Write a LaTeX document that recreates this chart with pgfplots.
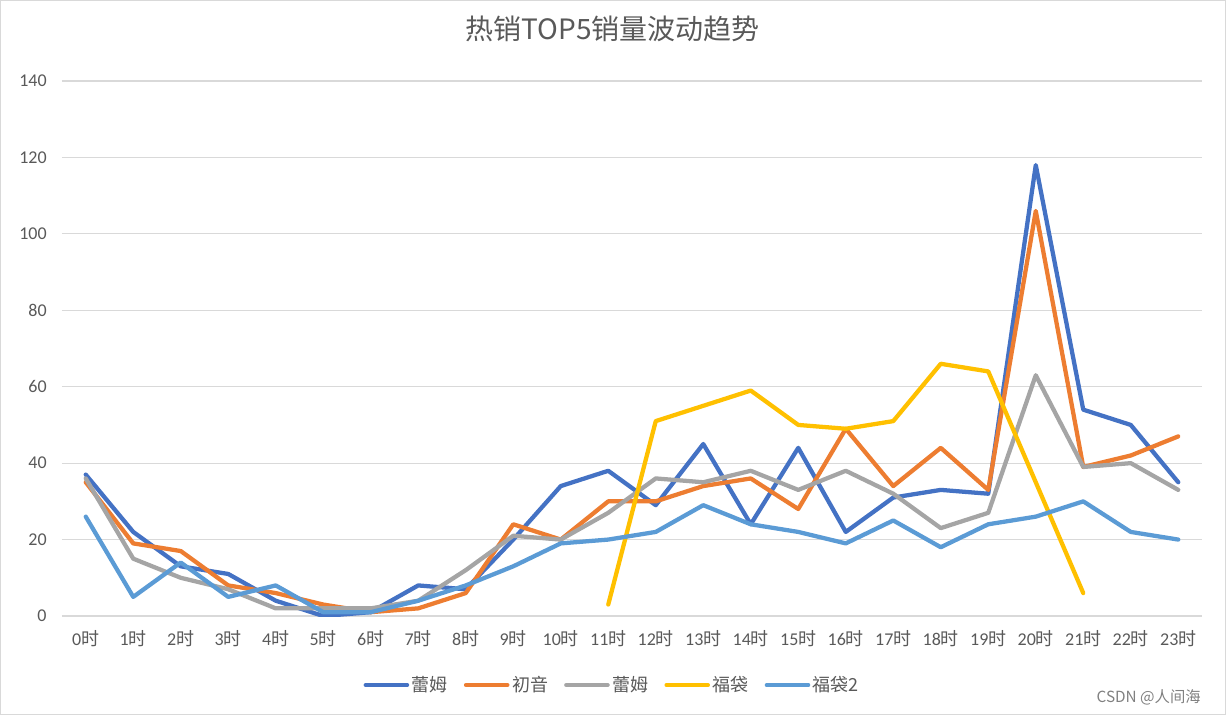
\documentclass[border=0pt]{standalone}
\usepackage{pgfplots}
\pgfplotsset{compat=1.18}
\usepackage{fontspec}
\setmainfont{Carlito}
\newfontfamily\cjk{Noto Sans CJK SC}
\definecolor{s1}{HTML}{4472C4}
\definecolor{s2}{HTML}{ED7D31}
\definecolor{s3}{HTML}{A5A5A5}
\definecolor{s4}{HTML}{FFC000}
\definecolor{s5}{HTML}{5B9BD5}
\definecolor{gridc}{HTML}{D9D9D9}
\definecolor{txt}{HTML}{595959}
\begin{document}
\begin{tikzpicture}
\begin{axis}[
  at={(0,0)}, anchor=south west,
  scale only axis, width=855pt, height=401.25pt,
  xmin=-0.5, xmax=23.5, ymin=0, ymax=140,
  xtick={0,...,23},
  xticklabels={0{\cjk 时},1{\cjk 时},2{\cjk 时},3{\cjk 时},4{\cjk 时},5{\cjk 时},6{\cjk 时},7{\cjk 时},8{\cjk 时},9{\cjk 时},10{\cjk 时},11{\cjk 时},12{\cjk 时},13{\cjk 时},14{\cjk 时},15{\cjk 时},16{\cjk 时},17{\cjk 时},18{\cjk 时},19{\cjk 时},20{\cjk 时},21{\cjk 时},22{\cjk 时},23{\cjk 时}},
  ytick={0,20,...,140},
  ymajorgrids, grid style={gridc, line width=0.9pt},
  axis line style={draw=none},
  major tick length=0pt,
  /pgf/number format/assume math mode=true,
  tick label style={font=\fontsize{13.5}{16}\selectfont, text=txt},
  yticklabel style={xshift=-8pt},
  xticklabel style={yshift=-7pt},
  title={\cjk 热销TOP5销量波动趋势},
  title style={at={(0.483,1)}, anchor=center, yshift=33pt, font=\fontsize{21}{25}\selectfont, text=txt},
  legend columns=5,
  legend style={draw=none, fill=none, at={(0.483,-0.129)}, anchor=center,
    font=\fontsize{13.5}{16}\selectfont\cjk, text=txt,
    /tikz/every even column/.append style={column sep=10pt}},
  legend image code/.code={\draw[#1, line cap=round] (0pt,0pt) -- (31pt,0pt);},
  every axis plot/.append style={line width=3.2pt, line join=round, line cap=round},
]
\addplot[s1] coordinates {(0,37)(1,22)(2,13)(3,11)(4,4)(5,0)(6,1)(7,8)(8,7)(9,20)(10,34)(11,38)(12,29)(13,45)(14,24)(15,44)(16,22)(17,31)(18,33)(19,32)(20,118)(21,54)(22,50)(23,35)};
\addlegendentry{蕾姆}
\addplot[s2] coordinates {(0,35)(1,19)(2,17)(3,8)(4,6)(5,3)(6,1)(7,2)(8,6)(9,24)(10,20)(11,30)(12,30)(13,34)(14,36)(15,28)(16,49)(17,34)(18,44)(19,33)(20,106)(21,39)(22,42)(23,47)};
\addlegendentry{初音}
\addplot[s3] coordinates {(0,36)(1,15)(2,10)(3,7)(4,2)(5,2)(6,2)(7,4)(8,12)(9,21)(10,20)(11,27)(12,36)(13,35)(14,38)(15,33)(16,38)(17,32)(18,23)(19,27)(20,63)(21,39)(22,40)(23,33)};
\addlegendentry{蕾姆}
\addplot[s4] coordinates {(11,3)(12,51)(13,55)(14,59)(15,50)(16,49)(17,51)(18,66)(19,64)(20,35)(21,6)};
\addlegendentry{福袋}
\addplot[s5] coordinates {(0,26)(1,5)(2,14)(3,5)(4,8)(5,1)(6,1)(7,4)(8,8)(9,13)(10,19)(11,20)(12,22)(13,29)(14,24)(15,22)(16,19)(17,25)(18,18)(19,24)(20,26)(21,30)(22,22)(23,20)};
\addlegendentry{福袋2}
\end{axis}
\draw[gridc, line width=0.9pt] (-46pt,-73.8pt) rectangle (872.5pt,461.5pt);
\node[text=gray, font=\fontsize{11.5}{13}\selectfont\cjk] at (815pt,-60.75pt) {CSDN @人间海};
\path[use as bounding box] (-46.5pt,-74.25pt) rectangle (873pt,462pt);
\end{tikzpicture}
\end{document}
